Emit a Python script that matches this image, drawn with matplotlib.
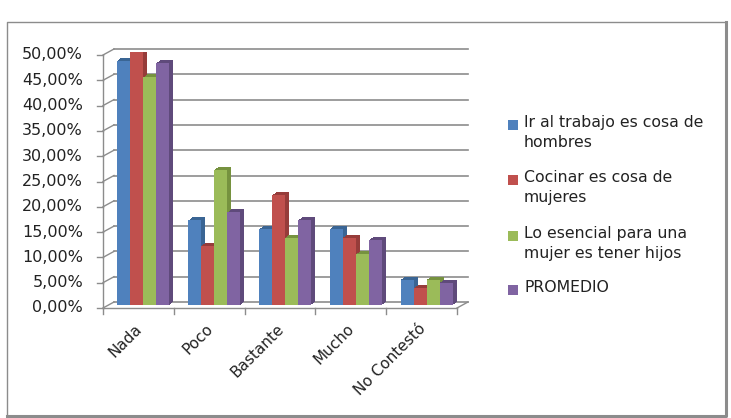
import matplotlib
matplotlib.use('Agg')
import matplotlib.pyplot as plt
import matplotlib.transforms as mtransforms
from matplotlib.patches import Rectangle
from matplotlib.lines import Line2D
import numpy as np

# data (percent)
categories = ['Nada', 'Poco', 'Bastante', 'Mucho', 'No Contestó']
series_labels = ['Ir al trabajo es cosa de\nhombres',
                 'Cocinar es cosa de\nmujeres',
                 'Lo esencial para una\nmujer es tener hijos',
                 'PROMEDIO']
ir_trabajo = [48.3, 16.7, 15.0, 15.0, 5.0]
cocinar = [50.0, 11.7, 21.7, 13.3, 3.3]
esencial = [45.0, 26.7, 13.3, 10.0, 5.0]
promedio = [47.8, 18.3, 16.7, 12.8, 4.4]
y_ticks = [0, 5, 10, 15, 20, 25, 30, 35, 40, 45, 50]
y_tick_labels = [('%.2f%%' % v).replace('.', ',') for v in y_ticks]

front_colors = ['#4F81BD', '#C0504D', '#9BBB59', '#8064A2']
side_colors = ['#3A6594', '#963C3A', '#76923F', '#5F4A7B']
grid_color = '#8C8C8C'
text_color = '#222222'

W, H = 731, 418
fig = plt.figure(figsize=(W / 100, H / 100), dpi=100)
ax = fig.add_axes([108 / W, 113 / H, 354 / W, 253 / H])
ax.set_xlim(-0.5, 4.5)
ax.set_ylim(0, 50)
ax.axis('off')


def shift(dx, dy):
	# offset in pixels (dpi = 100)
	return ax.transData + mtransforms.ScaledTranslation(dx / 100, dy / 100, fig.dpi_scale_trans)


# pixel size in data units
sx = 5.0 / 354
sy = 50.0 / 253

# back wall gridlines
for y, lab in zip(y_ticks, y_tick_labels):
	ax.plot([-0.5, 4.5], [y, y], color=grid_color, lw=1.2, transform=shift(6, 3), zorder=1, clip_on=False)
	# left wall diagonal
	ax.plot([-0.5 - 5 * sx, -0.5 + 6 * sx], [y - 3 * sy, y + 3 * sy], color=grid_color, lw=1.0, zorder=1, clip_on=False)
	# tick mark + label on front axis
	ax.plot([-0.5 - 11 * sx, -0.5 - 5 * sx], [y - 3 * sy, y - 3 * sy], color=grid_color, lw=1.0, clip_on=False)
	ax.text(-0.5, y, lab, transform=shift(-25, -3), ha='right', va='center',
	        fontsize=11.5, color=text_color)

# front vertical axis
ax.plot([-0.5, -0.5], [0, 50], color=grid_color, lw=1.0, transform=shift(-5, -3), clip_on=False)
# floor front edge and right edge
ax.plot([-0.5, 4.5], [0, 0], color=grid_color, lw=1.0, transform=shift(-5, -3), clip_on=False)
ax.plot([4.5 - 5 * sx, 4.5 + 6 * sx], [-3 * sy, 3 * sy], color=grid_color, lw=1.0, clip_on=False)
for i in range(len(categories) + 1):
	ax.plot([i - 0.5, i - 0.5], [0, -6 * sy], color=grid_color, lw=1.0, transform=shift(-5, -3), clip_on=False)

# category labels
for i, c in enumerate(categories):
	ax.text(i, 0, c, rotation=45, ha='right', va='top', rotation_mode='anchor',
	        transform=shift(-9, -16), fontsize=11, color=text_color)

# pseudo 3d bars
series = [ir_trabajo, cocinar, esencial, promedio]
n = len(series)
width = 0.183
x = np.arange(len(categories))
for j, vals in enumerate(series):
	pos = x + (j - (n - 1) / 2) * width
	for k in np.linspace(0.5, 4.0, 8):
		ax.bar(pos, vals, width, color=side_colors[j], lw=0, transform=shift(k, k * 0.75), zorder=2)
	ax.bar(pos, vals, width, color=front_colors[j], lw=0, zorder=2)

# legend, drawn by hand so markers sit on the first text line
legend_rows = [125, 180, 236, 290]
for lab, col, row in zip(series_labels, front_colors, legend_rows):
	fig.patches.append(Rectangle((508 / W, 1 - (row + 5) / H), 10 / W, 10 / H,
	                             transform=fig.transFigure, facecolor=col, edgecolor='none'))
	fig.text(524 / W, 1 - (row - 10) / H, lab, ha='left', va='top', fontsize=11.3,
	         color=text_color, linespacing=1.45)

# outer chart border: thin top/left, heavier right/bottom
bl, br, bt, bb = 7 / W, 726 / W, 1 - 22 / H, 1 - 416 / H
fig.lines.append(Line2D([bl, bl, br], [bb, bt, bt], transform=fig.transFigure, color='#8C8C8C', lw=1.0))
fig.lines.append(Line2D([bl, br, br], [bb, bb, bt], transform=fig.transFigure, color='#8C8C8C', lw=2.2))

fig.savefig('out.png', dpi=100)
